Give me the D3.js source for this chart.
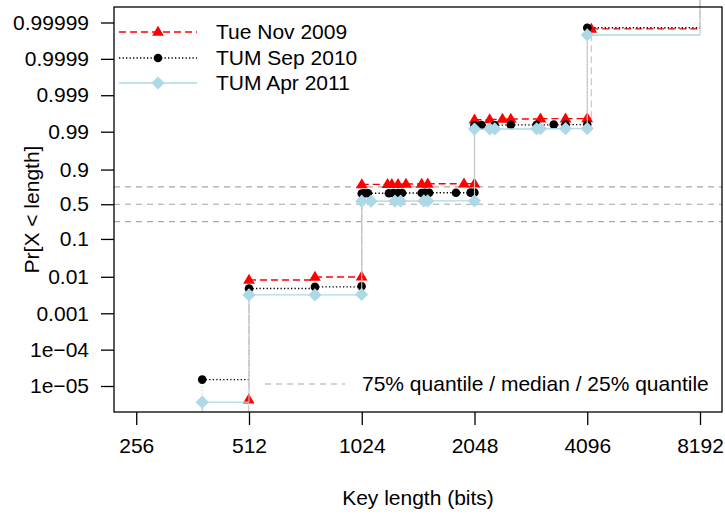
<!DOCTYPE html>
<html>
<head>
<meta charset="utf-8">
<script src="https://cdn.jsdelivr.net/npm/d3@7"></script>
<style>
  html, body { margin: 0; padding: 0; background: #fff; }
  svg { display: block; }
  text { font-family: "Liberation Sans", Arial, Helvetica, sans-serif; fill: #000; }
</style>
</head>
<body>
<svg id="chart" width="725" height="516"></svg>
<script>
// ---------------- data ----------------
const seriesNames = ["Tue Nov 2009", "TUM Sep 2010", "TUM Apr 2011"];

const tueBits = [511, 512, 768, 1023, 1024, 1200, 1232, 1280, 1344, 1480, 1536, 1920, 2047,
                 2048, 2248, 2432, 2560, 3072, 3584, 4095, 4200, 8192];
const tueProb = [4.2e-6, 0.0082, 0.0099, 0.0101, 0.779, 0.780, 0.781, 0.782, 0.783, 0.784, 0.785, 0.786, 0.787,
                 0.9953, 0.9954, 0.9955, 0.9955, 0.9956, 0.9956, 0.9957, 0.999985, 1];

const sep10Bits = [384, 512, 768, 1023, 1024, 1040, 1064, 1210, 1244, 1280, 1312, 1480, 1510, 1550, 1828, 2000, 2047,
                   2048, 2137, 2318, 2560, 3000, 3334, 3584, 4095, 4096, 8192];
const sep10Prob = [1.5e-5, 0.0048, 0.0053, 0.0055, 0.665, 0.666, 0.667, 0.668, 0.669, 0.670, 0.671, 0.672, 0.673, 0.674, 0.675, 0.676, 0.677,
                   0.9933, 0.9934, 0.9934, 0.9935, 0.9935, 0.9936, 0.9936, 0.9936, 0.999986, 1];

const apr11Bits = [384, 512, 768, 1023, 1024, 1084, 1256, 1300, 1500, 1536, 2047,
                   2048, 2250, 2320, 3000, 3072, 3584, 4095, 4096, 8192];
const apr11Prob = [3.6e-6, 0.0032, 0.0032, 0.0033, 0.548, 0.549, 0.550, 0.551, 0.552, 0.553, 0.554,
                   0.9915, 0.9916, 0.9916, 0.9917, 0.9917, 0.9918, 0.9918, 0.999978, 1];

const quantileProbs = [0.25, 0.5, 0.75];
const quantileLabel = "75% quantile / median / 25% quantile";

const xTicks = [256, 512, 1024, 2048, 4096, 8192];
const yTicks = [1e-5, 1e-4, 0.001, 0.01, 0.1, 0.5, 0.9, 0.99, 0.999, 0.9999, 0.99999];
const yTickLabels = ["1e\u221205", "1e\u221204", "0.001", "0.01", "0.1", "0.5", "0.9", "0.99", "0.999", "0.9999", "0.99999"];

const xTitle = "Key length (bits)";
const yTitle = "Pr[X < length]";

// ---------------- layout ----------------
const W = 725, H = 516;
const box = { left: 114, right: 722, top: 7, bottom: 412 };
const fontSize = 21;

const logit = p => Math.log10(p / (1 - p));

const x = d3.scaleLog().base(2).domain([512, 8192]).range([249, 700]);
const yLin = d3.scaleLinear().domain([logit(1e-5), logit(0.99999)]).range([386, 22.5]);
const y = p => {
  if (p >= 1) return 0;
  if (p <= 0) return H;
  return yLin(logit(p));
};

const svg = d3.select("#chart");

svg.append("defs").append("clipPath").attr("id", "clipStep")
  .append("rect").attr("x", box.left).attr("y", 0)
  .attr("width", box.right - box.left).attr("height", box.bottom);

// quantile lines
const gq = svg.append("g");
quantileProbs.forEach(q => {
  gq.append("line")
    .attr("x1", box.left).attr("x2", box.right)
    .attr("y1", y(q)).attr("y2", y(q))
    .attr("stroke", "#a8a8a8").attr("stroke-width", 1.2)
    .attr("stroke-dasharray", "6,5");
});

// series
const series = [
  { name: seriesNames[0], bits: tueBits, prob: tueProb, color: "#ff0000", dash: "7,4", shape: "tri" },
  { name: seriesNames[1], bits: sep10Bits, prob: sep10Prob, color: "#000000", dash: "1.3,2.2", shape: "dot" },
  { name: seriesNames[2], bits: apr11Bits, prob: apr11Prob, color: "#add8e6", dash: null, shape: "dia" }
];
const vertColor = "#c4c4c4";

function drawSymbol(g, shape, cx, cy, color) {
  if (shape === "tri") {
    const s = 6.2;
    g.append("path")
      .attr("d", `M${cx},${cy - s} L${cx + s * 0.95},${cy + s * 0.62} L${cx - s * 0.95},${cy + s * 0.62} Z`)
      .attr("fill", color);
  } else if (shape === "dot") {
    g.append("circle").attr("cx", cx).attr("cy", cy).attr("r", 4.3).attr("fill", color);
  } else {
    const s = 6.6;
    g.append("path")
      .attr("d", `M${cx},${cy - s} L${cx + s},${cy} L${cx},${cy + s} L${cx - s},${cy} Z`)
      .attr("fill", color);
  }
}

series.forEach(sr => {
  const g = svg.append("g");
  const gl = g.append("g").attr("clip-path", "url(#clipStep)");
  const n = sr.bits.length;
  // first vertical rising from zero probability
  gl.append("line")
    .attr("x1", x(sr.bits[0])).attr("x2", x(sr.bits[0]))
    .attr("y1", box.bottom).attr("y2", y(sr.prob[0]))
    .attr("stroke", vertColor).attr("stroke-width", 1.1)
    .attr("stroke-dasharray", sr.dash);
  for (let i = 0; i < n - 1; i++) {
    const x0 = x(sr.bits[i]), x1 = x(sr.bits[i + 1]);
    const y0 = y(sr.prob[i]), y1 = y(sr.prob[i + 1]);
    gl.append("line")
      .attr("x1", x0).attr("x2", x1).attr("y1", y0).attr("y2", y0)
      .attr("stroke", sr.color).attr("stroke-width", 1.4)
      .attr("stroke-dasharray", sr.dash);
    gl.append("line")
      .attr("x1", x1).attr("x2", x1).attr("y1", y0).attr("y2", y1)
      .attr("stroke", vertColor).attr("stroke-width", 1.1)
      .attr("stroke-dasharray", sr.dash);
  }
  for (let i = 0; i < n; i++) {
    if (sr.prob[i] >= 1) continue;
    drawSymbol(g, sr.shape, x(sr.bits[i]), y(sr.prob[i]), sr.color);
  }
});

// box
svg.append("rect")
  .attr("x", box.left).attr("y", box.top)
  .attr("width", box.right - box.left).attr("height", box.bottom - box.top)
  .attr("fill", "none").attr("stroke", "#000").attr("stroke-width", 1.3);

// axes
const xAxis = d3.axisBottom(x).tickValues(xTicks).tickFormat(d => String(d))
  .tickSize(13).tickPadding(13);
const gx = svg.append("g").attr("transform", `translate(0,${box.bottom})`).call(xAxis);
gx.select(".domain").remove();
gx.selectAll("line").attr("stroke", "#000").attr("stroke-width", 1.3);
gx.selectAll("text").attr("font-size", fontSize).style("font-family", "Liberation Sans, Arial, sans-serif");

const yAxis = d3.axisLeft(yLin).tickValues(yTicks.map(logit))
  .tickFormat((d, i) => yTickLabels[i]).tickSize(13).tickPadding(12);
const gy = svg.append("g").attr("transform", `translate(${box.left},0)`).call(yAxis);
gy.select(".domain").remove();
gy.selectAll("line").attr("stroke", "#000").attr("stroke-width", 1.3);
gy.selectAll("text").attr("font-size", fontSize).style("font-family", "Liberation Sans, Arial, sans-serif");

// titles
svg.append("text").attr("x", (box.left + box.right) / 2).attr("y", 505)
  .attr("text-anchor", "middle").attr("font-size", fontSize).text(xTitle);
svg.append("text")
  .attr("transform", `translate(39,${(box.top + box.bottom) / 2}) rotate(-90)`)
  .attr("text-anchor", "middle").attr("font-size", fontSize).text(yTitle);

// legend (top-left)
const legY = [32, 58, 83];
series.forEach((sr, i) => {
  const g = svg.append("g");
  g.append("line").attr("x1", 119).attr("x2", 197).attr("y1", legY[i]).attr("y2", legY[i])
    .attr("stroke", sr.color).attr("stroke-width", 1.4).attr("stroke-dasharray", sr.dash);
  drawSymbol(g, sr.shape, 158, legY[i], sr.color);
  g.append("text").attr("x", 216).attr("y", legY[i]).attr("dy", "0.35em")
    .attr("font-size", fontSize).text(sr.name);
});

// legend (quantiles)
svg.append("line").attr("x1", 265).attr("x2", 345).attr("y1", 384).attr("y2", 384)
  .attr("stroke", "#a8a8a8").attr("stroke-width", 1.2).attr("stroke-dasharray", "6,5");
svg.append("text").attr("x", 362).attr("y", 384).attr("dy", "0.35em")
  .attr("font-size", fontSize).text(quantileLabel);
</script>
</body>
</html>
